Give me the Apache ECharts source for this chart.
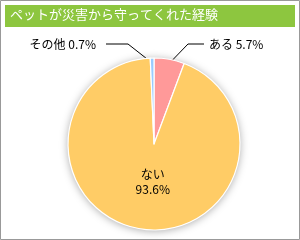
<!DOCTYPE html>
<html>
<head>
<meta charset="utf-8">
<script src="https://cdn.jsdelivr.net/npm/echarts@6/dist/echarts.min.js"></script>
<style>
html,body{margin:0;padding:0;background:#fff;}
#c{width:300px;height:240px;}
</style>
</head>
<body>
<div id="c"></div>
<script>
var titleText = 'ペットが災害から守ってくれた経験';
var categories = ['ある', 'ない', 'その他'];
var values = [5.7, 93.6, 0.7];
var colors = ['#ff9999', '#ffcc66', '#99ccff'];

var chart = echarts.init(document.getElementById('c'), null, {renderer: 'canvas'});
var FONT = '"Noto Sans CJK JP", sans-serif';

var data = categories.map(function (c, i) {
  return {name: c, value: values[i], itemStyle: {color: colors[i]}, label: {show: i !== 1}, labelLine: {show: i !== 1}};
});

chart.setOption({
  animation: false,
  backgroundColor: '#fff',
  graphic: [
    {type: 'rect', shape: {x: 0.5, y: 0.5, width: 299, height: 239}, style: {fill: '#fff', stroke: '#999', lineWidth: 1}, z: -10},
    {type: 'rect', shape: {x: 5, y: 5, width: 290, height: 22}, style: {fill: '#8dc63f'}, z: -5},
    {type: 'text', left: 10, top: 8, style: {text: titleText, fill: '#fff', font: '13px ' + FONT}, z: 10}
  ],
  series: [
    {
      type: 'pie', silent: true, center: [154, 144], radius: 86, z: 1,
      data: [{value: 1, itemStyle: {color: '#fff'}}],
      itemStyle: {shadowBlur: 8, shadowColor: 'rgba(0,0,0,0.35)', shadowOffsetX: 0, shadowOffsetY: 1},
      label: {show: false}, labelLine: {show: false}
    },
    {
      type: 'pie', center: [154, 144], radius: 86, z: 2,
      startAngle: 90, clockwise: true,
      data: data,
      itemStyle: {borderColor: '#fff', borderWidth: 1.2},
      label: {
        position: 'outside',
        fontFamily: FONT, fontSize: 12, color: '#000',
        formatter: function (p) {
          return p.name + ' ' + p.value.toFixed(1) + '%';
        }
      },
      labelLine: {length: 10, length2: 10, lineStyle: {color: '#000', width: 1}},
      labelLayout: function (p) {
        if (p.dataIndex === 1) {
          return {};
        }
        var right = p.dataIndex === 0;
        var y = 44;
        var p0 = p.labelLinePoints[0], p1 = p.labelLinePoints[1];
        var dx = p1[0] - p0[0], dy = p1[1] - p0[1];
        var len = Math.sqrt(dx * dx + dy * dy) || 1;
        var start = [p0[0] - dx / len * 5, p0[1] - dy / len * 5];
        return {
          x: right ? 209 : 96, y: y,
          align: right ? 'left' : 'right', verticalAlign: 'middle',
          labelLinePoints: [start, [right ? 188 : 128, y], [right ? 204 : 106, y]]
        };
      },
      emphasis: {disabled: true}
    },
    {
      type: 'pie', center: [154, 144], radius: 86, z: 3, silent: true,
      startAngle: 90, clockwise: true,
      data: data.map(function (d, i) { return {name: d.name, value: d.value, itemStyle: {color: 'transparent'}, label: {show: i === 1}}; }),
      itemStyle: {borderWidth: 0},
      label: {
        position: 'inner', fontFamily: FONT, fontSize: 12, color: '#000', lineHeight: 15,
        formatter: function (p) { return p.name + '\n' + p.value.toFixed(1) + '%'; }
      },
      labelLine: {show: false},
      labelLayout: {dx: 6, dy: -7},
      emphasis: {disabled: true}
    }
  ]
});
</script>
</body>
</html>
